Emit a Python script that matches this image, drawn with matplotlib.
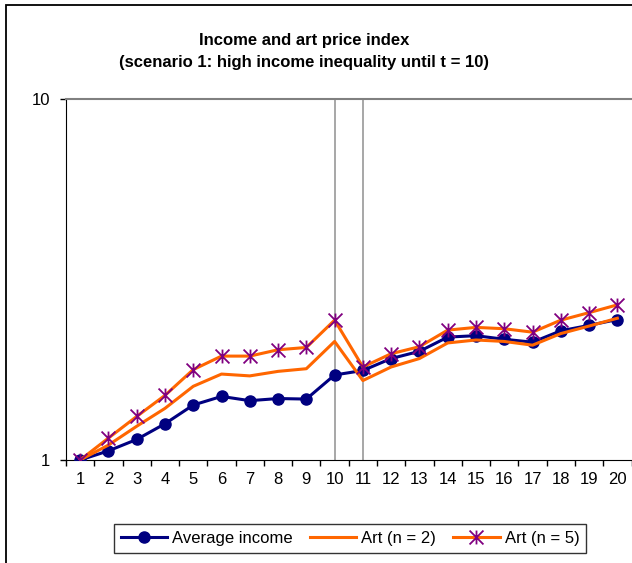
import matplotlib
matplotlib.use('Agg')
import matplotlib.pyplot as plt
from matplotlib.patches import Rectangle
from matplotlib.path import Path
from matplotlib.ticker import FixedLocator, NullLocator, NullFormatter

plt.rcParams['font.family'] = ['Liberation Sans', 'DejaVu Sans']

# Datos
t = list(range(1, 21))
average_income = [1.00, 1.06, 1.14, 1.26, 1.42, 1.50, 1.46, 1.48, 1.475, 1.72,
                  1.77, 1.91, 2.00, 2.19, 2.21, 2.16, 2.12, 2.28, 2.36, 2.45]
art_n2 = [1.00, 1.10, 1.24, 1.39, 1.60, 1.73, 1.71, 1.76, 1.79, 2.13,
          1.66, 1.81, 1.91, 2.11, 2.15, 2.13, 2.08, 2.24, 2.35, 2.47]
art_n5 = [1.00, 1.15, 1.32, 1.51, 1.78, 1.94, 1.94, 2.02, 2.05, 2.44,
          1.81, 1.97, 2.06, 2.29, 2.33, 2.31, 2.26, 2.44, 2.56, 2.69]
vlines_t = [10, 11]
y_ticks = [1, 10]

# Marcador asterisco estilo Excel (x con barra vertical)
asterisco = Path([(0, -1), (0, 1), (-1, -1), (1, 1), (-1, 1), (1, -1)],
                 [Path.MOVETO, Path.LINETO, Path.MOVETO, Path.LINETO,
                  Path.MOVETO, Path.LINETO])

fig = plt.figure(figsize=(6.32, 5.63), dpi=100)
ax = fig.add_axes([66/632, 1 - 460/563, 565.5/632, 361/563])

# Lineas verticales grises (t = 10 y t = 11)
for v in vlines_t:
    ax.axvline(v, color='#a0a0a0', lw=1.3, zorder=1)

ax.plot(t, average_income, color='#000080', lw=2.2, marker='o', ms=8,
        label='Average income', zorder=3)
ax.plot(t, art_n2, color='#ff6600', lw=2.2, label='Art (n = 2)', zorder=3)
ax.plot(t, art_n5, color='#ff6600', lw=2.2, marker=asterisco, ms=10,
        mec='#800080', mfc='none', mew=1.3, label='Art (n = 5)', zorder=4)

ax.set_yscale('log')
ax.set_ylim(1, 10)
ax.set_xlim(0.5, 20.5)

ax.yaxis.set_major_locator(FixedLocator(y_ticks))
ax.yaxis.set_major_formatter(matplotlib.ticker.FixedFormatter([str(v) for v in y_ticks]))
ax.yaxis.set_minor_locator(NullLocator())
ax.yaxis.set_minor_formatter(NullFormatter())
ax.tick_params(axis='y', which='major', direction='out', length=4.5, width=1,
               labelsize=12, pad=7)

ax.set_xticks(t)
ax.set_xticklabels([str(v) for v in t])
ax.xaxis.set_minor_locator(FixedLocator([v + 0.5 for v in range(0, 21)]))
ax.tick_params(axis='x', which='major', length=0, labelsize=12, pad=9)
ax.tick_params(axis='x', which='minor', direction='out', length=4.5, width=1)

ax.spines['left'].set_color('black')
ax.spines['bottom'].set_color('black')
ax.spines['top'].set_color('#808080')
ax.spines['top'].set_linewidth(1.5)
ax.spines['right'].set_visible(False)

fig.text(304/632, 1 - 40/563, 'Income and art price index', ha='center', va='center',
         fontsize=12, fontweight='bold')
fig.text(304/632, 1 - 63/563, '(scenario 1: high income inequality until t = 10)',
         ha='center', va='center', fontsize=12, fontweight='bold')

leg = fig.legend(loc='center', bbox_to_anchor=(350/632, 1 - 538.5/563), ncol=3,
                 fontsize=12, frameon=True, fancybox=False, handlelength=2.8,
                 handletextpad=0.3, columnspacing=1.0, borderpad=0.4)
leg.get_frame().set_edgecolor('black')
leg.get_frame().set_linewidth(1.0)

# Borde del area del grafico
fig.patches.append(Rectangle((6/632, -0.1), 1.2, 1.1 - 5/563, transform=fig.transFigure,
                             fill=False, edgecolor='black', lw=1.3))

fig.savefig('out.png', dpi=100)
